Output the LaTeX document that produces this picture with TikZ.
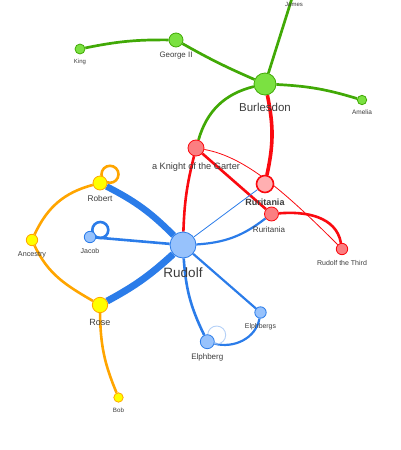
\documentclass[tikz,border=0pt]{standalone}
\usepackage{fontspec}
\setmainfont{Liberation Sans}
\usepackage{tikz}
\usetikzlibrary{backgrounds}
\definecolor{grnedge}{HTML}{41A906}
\definecolor{grnfill}{HTML}{7BE141}
\definecolor{rededge}{HTML}{FA0A10}
\definecolor{redfill}{HTML}{FB7E81}
\definecolor{rurifill}{HTML}{FFAFB1}
\definecolor{bluedge}{HTML}{2B7CE9}
\definecolor{blufill}{HTML}{97C2FC}
\definecolor{orgedge}{HTML}{FFA500}
\definecolor{yelfill}{HTML}{FFFF00}
\definecolor{lbltext}{HTML}{3C3C3C}
\newcommand{\lblsize}[1]{\fontsize{#1}{#1}\selectfont}

\begin{document}
\begin{tikzpicture}[
    x=1pt, y=1pt,
    vtx/.style={circle, inner sep=0pt, line width=0.8pt, minimum size=#1},
    gnode/.style={vtx=#1, draw=grnedge, fill=grnfill},
    rnode/.style={vtx=#1, draw=rededge, fill=redfill},
    bnode/.style={vtx=#1, draw=bluedge, fill=blufill},
    ynode/.style={vtx=#1, draw=orgedge, fill=yelfill},
    gedge/.style={draw=grnedge, line width=#1},
    redge/.style={draw=rededge, line width=#1},
    bedge/.style={draw=bluedge, line width=#1},
    oedge/.style={draw=orgedge, line width=#1},
    lbl/.style={text=lbltext, inner sep=0pt}
  ]
    \useasboundingbox (0,0) rectangle (400,-450);
    % Burlesdon group
    \node[gnode=10] (king) at (80,-49) {};
    \node[gnode=14] (george) at (176,-40) {};
    \node[gnode=22] (burl) at (265,-84) {};
    \node[gnode=9.4] (amelia) at (362,-100) {};
    \node[gnode=9.4] (james) at (293,5) {};
    % Ruritania group
    \node[rnode=16] (knight) at (196,-148) {};
    \node[rnode=17, fill=rurifill, line width=1.6pt] (rurib) at (265,-184) {};
    \node[rnode=14] (ruris) at (271.5,-214) {};
    \node[rnode=11.4] (third) at (342,-249) {};
    % Rudolf group
    \node[bnode=26] (rudolf) at (183,-245) {};
    \node[bnode=11.4] (jacob) at (90,-237) {};
    \node[bnode=11.4] (elphs) at (260.5,-312.5) {};
    \node[bnode=14] (elph) at (207.3,-341.7) {};
    % Ancestry group
    \node[ynode=14] (robert) at (100,-183) {};
    \node[ynode=11.4] (ancestry) at (32,-240) {};
    \node[ynode=15.4] (rose) at (100,-305) {};
    \node[ynode=9.4] (bob) at (118.5,-397.5) {};
    % Labels
    \node[lbl, font=\lblsize{6}] (jamesL) at (294,-4) {James};
    \node[lbl, font=\lblsize{6}] (kingL) at (80,-61.7) {King};
    \node[lbl, font=\lblsize{7.9}] (georgeL) at (176,-55.7) {George II};
    \node[lbl, font=\lblsize{11.5}] (burlL) at (265,-107) {Burlesdon};
    \node[lbl, font=\lblsize{6.5}] (ameliaL) at (362,-112) {Amelia};
    \node[lbl, font=\lblsize{9.2}] (knightL) at (196,-166.7) {a Knight of the Garter};
    \node[lbl, font=\lblsize{9}\bfseries] (ruribL) at (265,-202.7) {Ruritania};
    \node[lbl, font=\lblsize{8}] (rurisL) at (269,-230) {Ruritania};
    \node[lbl, font=\lblsize{7}] (thirdL) at (342,-262.7) {Rudolf the Third};
    \node[lbl, font=\lblsize{8.3}] (robertL) at (100,-199) {Robert};
    \node[lbl, font=\lblsize{7}] (jacobL) at (90,-250.7) {Jacob};
    \node[lbl, font=\lblsize{7.2}] (ancestryL) at (32,-254.3) {Ancestry};
    \node[lbl, font=\lblsize{13.5}] (rudolfL) at (183,-272.7) {Rudolf};
    \node[lbl, font=\lblsize{9}] (roseL) at (100,-322.7) {Rose};
    \node[lbl, font=\lblsize{6.9}] (elphsL) at (260.5,-326.7) {Elphbergs};
    \node[lbl, font=\lblsize{8}] (elphL) at (207.3,-357.7) {Elphberg};
    \node[lbl, font=\lblsize{6.2}] (bobL) at (118.5,-410) {Bob};
    % Loop centres
    \coordinate (robertloop) at (110,-174.3);
    \coordinate (jacobloop) at (100.3,-230);
    \coordinate (elphloop) at (216.7,-335);
    \begin{scope}[on background layer]
      % green links
      \draw[gedge=2.7] (king) to[bend left=6] (george);
      \draw[gedge=2.7] (george) to[bend right=3] (burl);
      \draw[gedge=2.7] (burl) to[bend left=7] (amelia);
      \draw[gedge=2.7] (burl) -- (james);
      \draw[gedge=2.7] (burl) to[bend right=30] (knight);
      % red links
      \draw[redge=3.6] (burl) to[bend left=12] (rurib);
      \draw[redge=2.6] (knight) to[bend right=6] (rudolf);
      \draw[redge=2.6] (knight) -- (ruris);
      \draw[redge=0.8] (knight) .. controls +(-10:50) and +(135:80) .. (third);
      \draw[redge=2.6] (ruris) to[out=5, in=100] (third);
      % blue links
      \draw[bedge=0.8] (rudolf) -- (rurib);
      \draw[bedge=2.2] (rudolf) to[bend right=17] (ruris);
      \draw[bedge=6.5] (rudolf) to[bend right=9] (robert);
      \draw[bedge=7] (rudolf) to[bend left=7] (rose);
      \draw[bedge=2.6] (rudolf) -- (jacob);
      \draw[bedge=2.2] (rudolf) -- (elphs);
      \draw[bedge=2.6] (rudolf) to[bend right=11] (elph);
      \draw[bedge=2.2] (elph) to[out=-15, in=-100] (elphs);
      % orange links
      \draw[oedge=2.6] (robert) to[out=195, in=65] (ancestry);
      \draw[oedge=2.6] (ancestry) to[out=-65, in=150] (rose);
      \draw[oedge=2.6] (rose) to[bend right=11] (bob);
      % self loops
      \draw[oedge=2.6] (robertloop) circle[radius=8.5];
      \draw[bedge=2.6] (jacobloop) circle[radius=8];
      \draw[draw=bluedge!35, line width=0.9pt] (elphloop) circle[radius=9];
    \end{scope}
  \end{tikzpicture}
\end{document}
